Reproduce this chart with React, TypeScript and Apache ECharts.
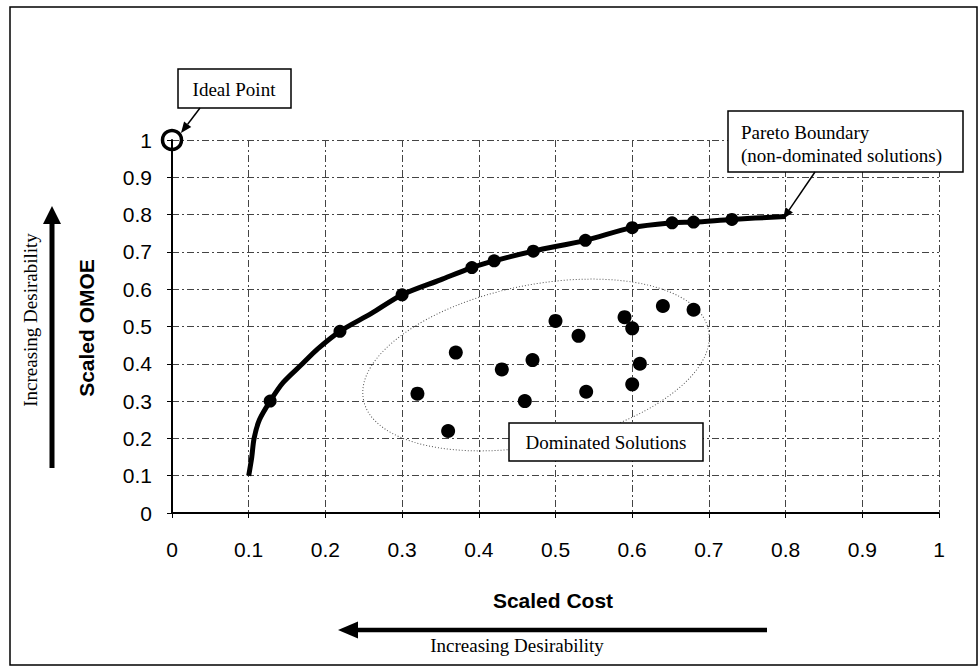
import React, { useEffect, useRef } from "react";
import * as echarts from "echarts";

const xTicks = [0, 0.1, 0.2, 0.3, 0.4, 0.5, 0.6, 0.7, 0.8, 0.9, 1];
const yTicks = [0, 0.1, 0.2, 0.3, 0.4, 0.5, 0.6, 0.7, 0.8, 0.9, 1];

// Pareto boundary curve
const paretoCurve: [number, number][] = [
  [0.1, 0.1], [0.104, 0.15], [0.107, 0.2], [0.114, 0.25], [0.128, 0.3],
  [0.145, 0.35], [0.17, 0.4], [0.19, 0.44], [0.219, 0.487], [0.26, 0.535],
  [0.3, 0.585], [0.35, 0.625], [0.391, 0.658], [0.42, 0.676], [0.471, 0.702],
  [0.539, 0.731], [0.6, 0.765], [0.652, 0.778], [0.68, 0.78], [0.73, 0.787],
  [0.8, 0.795],
];

// Non-dominated solutions on the boundary
const paretoPoints: [number, number][] = [
  [0.128, 0.3], [0.219, 0.487], [0.3, 0.585], [0.391, 0.658], [0.42, 0.676],
  [0.471, 0.702], [0.539, 0.731], [0.6, 0.765], [0.652, 0.778], [0.68, 0.78],
  [0.73, 0.787],
];

// Dominated solutions
const dominatedPoints: [number, number][] = [
  [0.32, 0.32], [0.36, 0.22], [0.37, 0.43], [0.43, 0.385], [0.46, 0.3],
  [0.47, 0.41], [0.5, 0.515], [0.53, 0.475], [0.54, 0.325], [0.59, 0.525],
  [0.6, 0.495], [0.61, 0.4], [0.6, 0.345], [0.64, 0.555], [0.68, 0.545],
];

const idealPoint: [number, number][] = [[0, 1]];

const SANS = "'Liberation Sans', Arial, sans-serif";
const SERIF = "'Liberation Serif', 'Times New Roman', serif";

function arrow(x1: number, y1: number, x2: number, y2: number, lw: number, hl: number, hw: number) {
  const dx = x2 - x1, dy = y2 - y1;
  const len = Math.hypot(dx, dy);
  const ux = dx / len, uy = dy / len;
  const bx = x2 - ux * hl, by = y2 - uy * hl;
  const px = -uy, py = ux;
  return [
    { type: "line", z: 100, shape: { x1, y1, x2: bx, y2: by }, style: { stroke: "#000", lineWidth: lw } },
    {
      type: "polygon", z: 100,
      shape: { points: [[x2, y2], [bx + (px * hw) / 2, by + (py * hw) / 2], [bx - (px * hw) / 2, by - (py * hw) / 2]] },
      style: { fill: "#000" },
    },
  ];
}

export default function App() {
  const ref = useRef<HTMLDivElement>(null);
  useEffect(() => {
    if (!ref.current) return;
    const chart = echarts.init(ref.current, undefined, { renderer: "svg" });
    const gridLine = { show: true, lineStyle: { color: "#444", width: 1, type: [7, 3, 2, 3] } };
    const option: any = {
      animation: false,
      backgroundColor: "#fff",
      grid: { left: 172, right: 40, top: 140, bottom: 158 },
      xAxis: {
        type: "value", min: 0, max: 1, interval: 0.1,
        axisLine: { show: true, onZero: false, lineStyle: { color: "#000", width: 2 } },
        axisTick: { show: true, length: 5, lineStyle: { color: "#000" } },
        axisLabel: {
          fontSize: 21, fontFamily: SANS, color: "#000", margin: 26,
          formatter: (v: number) => String(xTicks.find((t) => Math.abs(t - v) < 1e-6) ?? v),
        },
        splitLine: gridLine,
      },
      yAxis: {
        type: "value", min: 0, max: 1, interval: 0.1,
        axisLine: { show: true, onZero: false, lineStyle: { color: "#000", width: 2 } },
        axisTick: { show: true, length: 5, lineStyle: { color: "#000" } },
        axisLabel: {
          fontSize: 21, fontFamily: SANS, color: "#000", margin: 20,
          formatter: (v: number) => String(yTicks.find((t) => Math.abs(t - v) < 1e-6) ?? v),
        },
        splitLine: gridLine,
      },
      series: [
        {
          type: "line", data: paretoCurve, smooth: 0.3, showSymbol: false, symbol: "none",
          lineStyle: { color: "#000", width: 5, opacity: 1 }, z: 5,
        },
        {
          type: "scatter", data: paretoPoints, symbol: "circle", symbolSize: 13,
          itemStyle: { color: "#000", opacity: 1 }, z: 6,
        },
        {
          type: "scatter", data: dominatedPoints, symbol: "circle", symbolSize: 14,
          itemStyle: { color: "#000", opacity: 1 }, z: 6,
        },
        {
          type: "scatter", data: idealPoint, symbol: "circle", symbolSize: 19, clip: false,
          itemStyle: { color: "rgba(0,0,0,0)", borderColor: "#000", borderWidth: 3.5, opacity: 1 }, z: 10,
        },
      ],
      graphic: [
        { type: "rect", z: 0, silent: true, shape: { x: 10, y: 7, width: 967, height: 658 }, style: { fill: "none", stroke: "#000", lineWidth: 1.5 } },
        // Dominated region ellipse
        {
          type: "ellipse", z: 4, x: 536, y: 365, rotation: 0.2,
          shape: { cx: 0, cy: 0, rx: 176, ry: 80 },
          style: { fill: "none", stroke: "#555", lineWidth: 1, lineDash: [1, 2] },
        },
        // Ideal point box
        { type: "rect", z: 100, shape: { x: 178, y: 69, width: 113, height: 39 }, style: { fill: "#fff", stroke: "#000", lineWidth: 1.5 } },
        { type: "text", z: 101, x: 234, y: 89, style: { text: "Ideal Point", font: `19px ${SERIF}`, fill: "#000", align: "center", verticalAlign: "middle" } },
        ...arrow(200, 108, 181, 133, 1.5, 11, 9),
        // Pareto box
        { type: "rect", z: 100, shape: { x: 728, y: 111, width: 235, height: 61 }, style: { fill: "#fff", stroke: "#000", lineWidth: 1.5 } },
        { type: "text", z: 101, x: 741, y: 132, style: { text: "Pareto Boundary", font: `19px ${SERIF}`, fill: "#000", align: "left", verticalAlign: "middle" } },
        { type: "text", z: 101, x: 741, y: 155, style: { text: "(non-dominated solutions)", font: `19px ${SERIF}`, fill: "#000", align: "left", verticalAlign: "middle" } },
        ...arrow(815, 172, 783, 219, 1.5, 11, 9),
        // Dominated box
        { type: "rect", z: 100, shape: { x: 509, y: 423, width: 194, height: 38 }, style: { fill: "#fff", stroke: "#000", lineWidth: 1.5 } },
        { type: "text", z: 101, x: 606, y: 442, style: { text: "Dominated Solutions", font: `19px ${SERIF}`, fill: "#000", align: "center", verticalAlign: "middle" } },
        // Axis titles
        { type: "text", z: 101, x: 553, y: 600, style: { text: "Scaled Cost", font: `bold 21px ${SANS}`, fill: "#000", align: "center", verticalAlign: "middle" } },
        { type: "text", z: 101, x: 86, y: 328, rotation: Math.PI / 2, style: { text: "Scaled OMOE", font: `bold 21px ${SANS}`, fill: "#000", align: "center", verticalAlign: "middle" } },
        // Desirability arrows
        ...arrow(767, 630, 338, 630, 4.5, 20, 17),
        { type: "text", z: 101, x: 517, y: 645, style: { text: "Increasing Desirability", font: `19px ${SERIF}`, fill: "#000", align: "center", verticalAlign: "middle" } },
        ...arrow(52, 468, 52, 206, 5, 18, 18),
        { type: "text", z: 101, x: 30, y: 320, rotation: Math.PI / 2, style: { text: "Increasing Desirability", font: `19px ${SERIF}`, fill: "#000", align: "center", verticalAlign: "middle" } },
      ],
    };
    chart.setOption(option);
    return () => chart.dispose();
  }, []);
  return <div ref={ref} style={{ position: "fixed", left: 0, top: 0, width: 979, height: 671 }} />;
}
